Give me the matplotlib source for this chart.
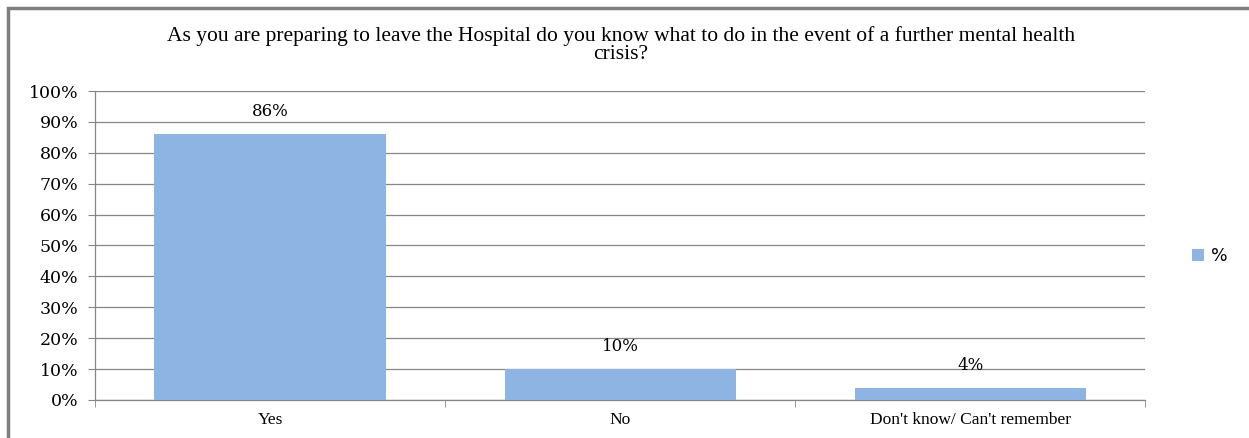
import numpy as np
import matplotlib.pyplot as plt
from matplotlib.patches import Rectangle

# data
categories = ["Yes", "No", "Don't know/ Can't remember"]
values = [86, 10, 4]
labels = ["86%", "10%", "4%"]
yticks = [0, 10, 20, 30, 40, 50, 60, 70, 80, 90, 100]

plt.rcParams['font.family'] = ['Liberation Serif', 'DejaVu Serif']

fig = plt.figure(figsize=(12.49, 4.38), dpi=100)
ax = fig.add_axes([0.076, 0.087, 0.841, 0.705])

x = np.arange(len(categories))
bars = ax.bar(x, values, width=0.66, color='#8eb4e3', zorder=3, label='%')

for b, lab in zip(bars, labels):
    ax.text(b.get_x() + b.get_width() / 2, b.get_height() + 4.5, lab,
            ha='center', va='bottom', fontsize=12, family='DejaVu Serif')

ax.set_xlim(-0.5, len(categories) - 0.5)
ax.set_ylim(0, 100)
ax.set_yticks(yticks)
ax.set_yticklabels(['%d%%' % t for t in yticks], fontsize=12.5,
                   family='DejaVu Serif')
ax.set_xticks(x)
ax.set_xticklabels(categories, fontsize=12.5)
ax.set_xticks(np.arange(len(categories) + 1) - 0.5, minor=True)
ax.tick_params(axis='x', which='major', length=0, pad=9)
ax.tick_params(axis='x', which='minor', length=5, color='#868686')
ax.tick_params(axis='y', length=5, color='#868686', pad=7)

ax.yaxis.grid(True, color='#868686', linewidth=0.9, zorder=0)
for s in ['top', 'right']:
    ax.spines[s].set_visible(False)
for s in ['left', 'bottom']:
    ax.spines[s].set_color('#868686')
    ax.spines[s].set_linewidth(0.9)

fig.text(0.497, 0.898,
         "As you are preparing to leave the Hospital do you know what to do in the event of a further mental health\ncrisis?",
         ha='center', va='center', fontsize=15.5, linespacing=0.92)

leg = fig.legend(handles=[bars], labels=['%'], loc='center left',
                 bbox_to_anchor=(0.942, 0.415), frameon=False,
                 handlelength=0.7, handleheight=0.7, handletextpad=0.4,
                 prop={'family': 'DejaVu Sans', 'size': 12.5})

fig.patches.append(Rectangle((8 / 1249, -0.1), 1.2, (438 - 8) / 438 + 0.1,
                             transform=fig.transFigure, fill=False,
                             edgecolor='#7f7f7f', linewidth=2.5))

plt.savefig('out.png', dpi=100)
